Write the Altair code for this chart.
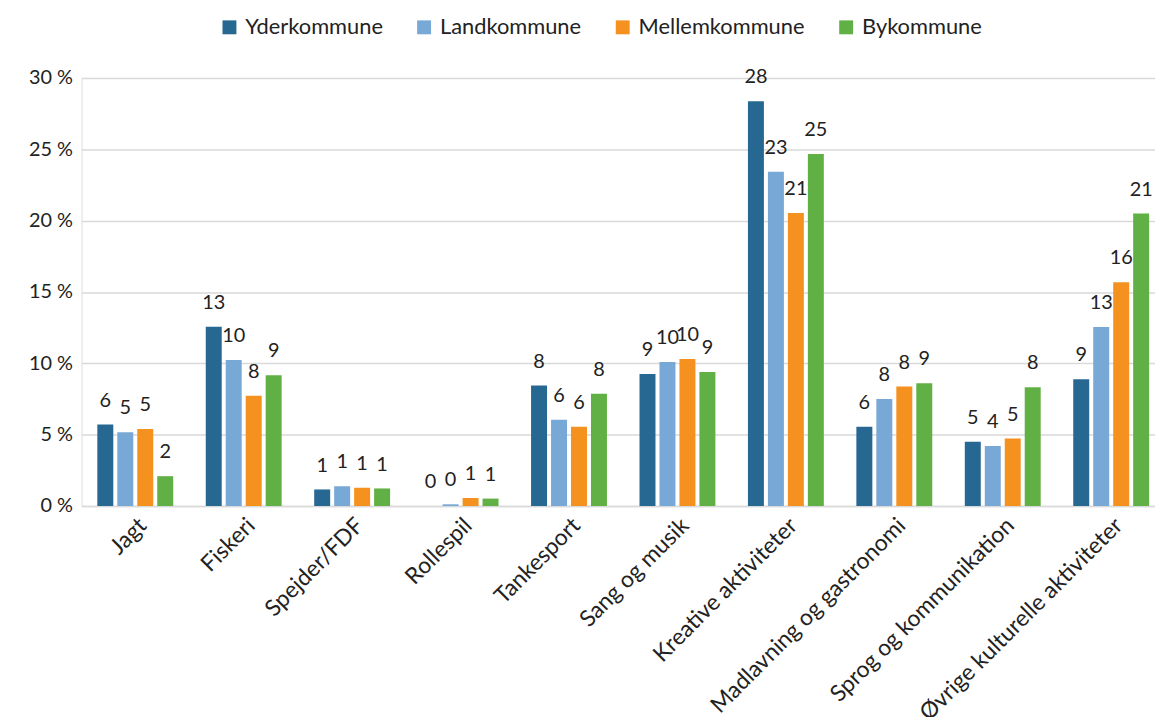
import altair as alt
import pandas as pd

categories = ["Jagt", "Fiskeri", "Spejder/FDF", "Rollespil", "Tankesport",
              "Sang og musik", "Kreative aktiviteter", "Madlavning og gastronomi",
              "Sprog og kommunikation", "Øvrige kulturelle aktiviteter"]
series = ["Yderkommune", "Landkommune", "Mellemkommune", "Bykommune"]
colors = ["#276893", "#78A8D6", "#F5921F", "#61B045"]

yder = [5.71, 12.57, 1.16, 0.0, 8.45, 9.25, 28.37, 5.55, 4.50, 8.88]
land = [5.17, 10.23, 1.39, 0.12, 6.05, 10.10, 23.43, 7.50, 4.20, 12.55]
mellem = [5.40, 7.72, 1.28, 0.56, 5.55, 10.30, 20.53, 8.37, 4.73, 15.68]
by = [2.09, 9.16, 1.23, 0.52, 7.86, 9.40, 24.68, 8.60, 8.33, 20.50]

rows = []
for s, vals in zip(series, [yder, land, mellem, by]):
    for c, v in zip(categories, vals):
        rows.append({"kategori": c, "kommune": s, "pct": v})
df = pd.DataFrame(rows)

FONT = "Lato"

x = alt.X("kategori:N", sort=categories, title=None,
          scale=alt.Scale(paddingInner=0.3, paddingOuter=0.1, align=0.73),
          axis=alt.Axis(labelAngle=-45, labelFontSize=23, labelColor="#222222",
                        labelFont=FONT, ticks=False, domain=True, domainColor="#d9d9d9",
                        domainWidth=1.5, labelPadding=8, labelLimit=400))
xoff = alt.XOffset("kommune:N", sort=series, scale=alt.Scale(paddingInner=0.2))
y = alt.Y("pct:Q", title=None,
          scale=alt.Scale(domain=[0, 30], nice=False),
          axis=alt.Axis(values=[0, 5, 10, 15, 20, 25, 30], labelExpr="datum.value + ' %'",
                        labelFontSize=20, labelColor="#222222", labelFont=FONT,
                        ticks=False, domain=False, gridColor="#d9d9d9", gridWidth=1.5,
                        labelPadding=9))
color = alt.Color("kommune:N", sort=series,
                  scale=alt.Scale(domain=series, range=colors),
                  legend=alt.Legend(title=None, orient="none", direction="horizontal",
                                    legendX=138, legendY=-62, symbolType="square",
                                    symbolSize=196, symbolStrokeWidth=0,
                                    labelFontSize=22, labelFont=FONT, labelColor="#222222",
                                    labelLimit=300, columnPadding=30, symbolOffset=0,
                                    labelOffset=5))

base = alt.Chart(df)
bars = base.mark_bar().encode(x=x, xOffset=xoff, y=y, color=color)
labels = base.mark_text(baseline="alphabetic", dy=-18, fontSize=20, font=FONT,
                        color="#222222").encode(
    x=x, xOffset=xoff, y=y, text=alt.Text("pct:Q", format=".0f"))

chart = (bars + labels).properties(
    width=1081, height=431,
    autosize=alt.AutoSizeParams(type="none"),
    padding={"left": 74, "top": 68, "right": 0, "bottom": 210},
).configure_view(stroke=None).configure(font=FONT)

chart.save("out.html", embed_options={"renderer": "svg", "actions": False})
